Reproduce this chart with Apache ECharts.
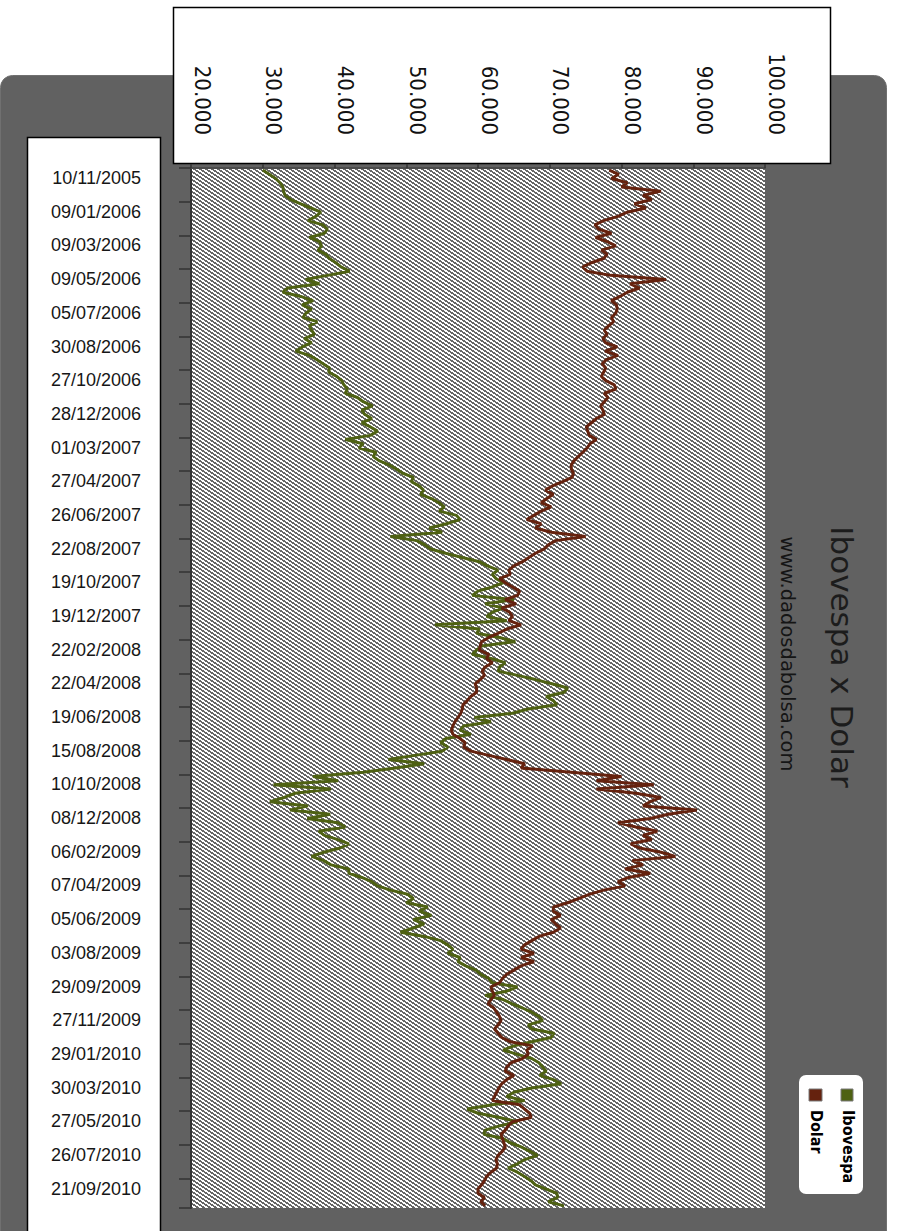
<!DOCTYPE html>
<html>
<head>
<meta charset="utf-8">
<title>Ibovespa x Dolar</title>
<script src="https://cdn.jsdelivr.net/npm/echarts@6/dist/echarts.min.js"></script>
<style>
  html, body { margin: 0; padding: 0; background: #ffffff; }
  #chart { width: 897px; height: 1231px; }
</style>
</head>
<body>
<div id="chart"></div>
<script>
// Date labels shown every 8th weekly point on the category axis (top to bottom)
const dateLabels = [
  '10/11/2005', '09/01/2006', '09/03/2006', '09/05/2006', '05/07/2006', '30/08/2006',
  '27/10/2006', '28/12/2006', '01/03/2007', '27/04/2007', '26/06/2007', '22/08/2007',
  '19/10/2007', '19/12/2007', '22/02/2008', '22/04/2008', '19/06/2008', '15/08/2008',
  '10/10/2008', '08/12/2008', '06/02/2009', '07/04/2009', '05/06/2009', '03/08/2009',
  '29/09/2009', '27/11/2009', '29/01/2010', '30/03/2010', '27/05/2010', '26/07/2010',
  '21/09/2010'
];
const pointsPerLabel = 8;

// Ibovespa, thousands of points, weekly samples
const ibovespaMil = [
  30.0, 30.9, 31.8, 32.4, 32.8, 32.9, 33.1, 33.9,
  35.3, 36.7, 38.1, 37.4, 36.3, 38.4, 39.0, 38.6,
  36.5, 37.9, 38.2, 37.7, 38.8, 39.3, 40.2, 40.9,
  42.1, 39.0, 36.0, 37.9, 33.5, 32.8, 35.3, 37.0,
  35.5, 36.8, 36.0, 35.6, 37.6, 36.5, 36.8, 37.2,
  35.8, 36.8, 35.5, 34.6, 36.5, 37.5, 38.4, 39.3,
  39.2, 40.3, 41.0, 41.3, 41.8, 41.5, 43.2, 44.0,
  45.3, 43.8, 44.2, 45.2, 43.8, 45.0, 46.0, 45.0,
  41.5, 44.0, 43.4, 45.8, 45.4, 46.2, 47.6, 48.6,
  49.5, 51.0, 50.7, 51.8, 52.4, 52.0, 53.5, 54.6,
  55.3, 54.6, 57.0, 57.5, 55.6, 53.2, 55.0, 47.8,
  51.5, 52.6, 53.4, 55.5, 57.8, 60.2, 61.3, 62.8,
  62.0, 62.5, 63.5, 62.0, 60.0, 59.2, 65.0, 61.0,
  63.5, 62.0, 61.2, 64.0, 54.0, 60.2, 59.8, 63.0,
  65.2, 60.5, 59.8, 59.2, 61.8, 63.8, 63.0, 62.8,
  65.5, 68.0, 70.3, 72.5, 72.0, 69.5, 70.5, 71.0,
  67.0, 64.8, 59.5, 61.8, 58.0, 57.5, 59.0, 55.5,
  54.8, 55.8, 55.0, 51.2, 47.5, 52.5, 48.5, 44.0,
  37.0, 40.5, 31.5, 39.5, 34.5, 33.0, 31.0, 36.3,
  33.8, 39.4, 36.2, 40.5, 41.5, 37.8, 38.6, 40.5,
  42.0, 40.8, 38.5, 36.8, 38.5, 39.5, 42.0, 42.0,
  43.8, 45.2, 46.0, 47.8, 50.2, 51.0, 50.0, 53.0,
  51.8, 53.5, 51.0, 52.5, 51.0, 49.2, 52.5, 54.8,
  55.8, 56.5, 55.8, 57.5, 57.2, 58.3, 59.7, 60.4,
  61.5, 62.0, 65.5, 64.0, 61.0, 63.5, 64.8, 66.2,
  67.5, 68.5, 69.0, 67.0, 67.5, 70.6, 70.2, 67.5,
  65.0, 63.5, 65.5, 67.5, 68.5, 69.0, 69.5, 68.6,
  70.5, 71.6, 67.5, 65.0, 64.0, 66.5, 62.0, 58.5,
  60.0, 63.0, 65.5, 63.0, 61.0, 60.8, 63.5, 64.5,
  66.0, 67.2, 68.3, 66.5, 65.5, 64.2, 65.5, 66.5,
  67.4, 68.0, 69.5, 71.0, 71.1, 69.8, 72.0
];

// Dolar, on the same scale (thousands), weekly samples
const dolarMil = [
  78.3, 79.6, 78.6, 80.8, 80.0, 85.5, 83.0, 84.2,
  81.8, 83.4, 80.8, 79.5, 77.5, 76.3, 76.8, 78.6,
  76.4, 78.0, 79.2, 77.2, 78.0, 77.5, 75.8, 74.6,
  75.2, 78.5, 86.2, 81.2, 82.5, 80.8, 79.8, 78.6,
  79.3, 79.4, 79.2, 78.6, 78.9, 78.2, 77.6, 78.0,
  77.4, 77.8, 79.4, 77.7, 79.5, 77.9, 77.3, 77.8,
  77.5, 77.2, 77.8, 79.0, 79.2, 77.6, 78.1, 77.6,
  77.1, 77.4, 77.6, 76.5, 75.8, 75.1, 75.3, 75.5,
  76.5, 75.6, 75.2, 74.6, 74.0, 73.4, 73.0, 73.0,
  73.3, 73.1, 71.8, 70.4, 69.4, 70.5, 69.6, 68.8,
  70.2, 68.8, 67.8, 66.8, 68.8, 68.0, 70.2, 75.0,
  70.8, 69.8, 69.2, 68.0, 67.1, 66.2, 65.0, 64.3,
  64.5, 63.0, 63.8, 64.8, 65.8, 65.5, 63.8, 65.3,
  63.3, 64.4, 64.8, 64.3, 66.0, 64.0, 62.8, 61.5,
  60.5, 60.3, 60.2, 61.5, 61.2, 62.0, 61.0, 60.6,
  60.9, 60.3, 59.6, 59.8, 59.8, 59.0, 58.5, 57.9,
  57.8, 57.6, 57.2, 56.8, 56.5, 56.3, 56.5, 57.5,
  58.2, 58.0, 59.0, 61.5, 64.0, 66.5, 66.0, 73.0,
  80.0, 76.5, 84.5, 76.5, 82.0, 85.5, 84.0, 83.0,
  90.5, 86.5, 84.0, 79.5, 82.0, 85.0, 83.0, 84.2,
  81.3, 82.5, 85.5, 87.5, 81.5, 83.0, 80.5, 84.0,
  81.0, 79.5, 80.5, 77.5, 75.5, 74.0, 72.5, 70.5,
  70.5, 71.5, 70.2, 70.8, 71.5, 70.5, 68.5, 67.5,
  66.5, 66.0, 67.8, 66.0, 67.8, 66.0, 65.0, 64.0,
  63.4, 63.0, 61.8, 62.0, 62.3, 61.8, 61.4, 62.2,
  62.6, 63.0, 63.2, 62.8, 62.3, 62.8, 63.3, 64.5,
  67.6, 66.8, 67.0, 66.2, 64.6, 64.0, 63.8, 65.0,
  64.0, 63.3, 62.9, 62.6, 62.3, 62.0, 65.8, 66.5,
  67.2, 67.4, 64.8, 64.2, 63.8, 63.2, 63.4, 63.6,
  63.8, 63.4, 62.8, 62.5, 62.7, 62.6, 61.8, 61.2,
  60.9, 60.5, 60.0, 60.0, 60.9, 60.4, 61.0
];

const valueMin = 20000;
const valueMax = 100000;
const valueStep = 10000;

const colorIbovespa = '#4e6112';
const colorDolar = '#65220e';
const frameGray = '#616161';

const ibovespa = ibovespaMil.map(v => v * 1000);
const dolar = dolarMil.map(v => v * 1000);
const categories = ibovespa.map((_, i) => String(i));

// thousands separator as in pt-BR: 20000 -> 20.000
function ptNumber(v) {
  return String(Math.round(v)).replace(/\B(?=(\d{3})+(?!\d))/g, '.');
}

// small tile of diagonal gray/white hatching for the plot area
function hatchTile() {
  const w = 6, h = 4, shift = 1.5;
  const c = document.createElement('canvas');
  c.width = w; c.height = h;
  const g = c.getContext('2d');
  g.fillStyle = '#ffffff';
  g.fillRect(0, 0, w, h);
  g.fillStyle = '#666666';
  for (let y = 0; y < h; y++) {
    for (let x = 0; x < w; x++) {
      const t = (((x + 0.5 - shift * y) % w) + w) % w;
      if (t < 3) g.fillRect(x, y, 1, 1);
    }
  }
  return c;
}

const plot = { left: 191, top: 168, width: 574, height: 1040 };

const chart = echarts.init(document.getElementById('chart'), null, { renderer: 'svg' });

const rot = -Math.PI / 2;

chart.setOption({
  animation: false,
  backgroundColor: '#ffffff',
  grid: { left: plot.left, top: plot.top, width: plot.width, height: plot.height, containLabel: false },
  xAxis: {
    type: 'value',
    position: 'top',
    min: valueMin,
    max: valueMax,
    interval: valueStep,
    splitLine: { show: false },
    axisLine: { show: true, lineStyle: { color: '#4a4a4a', width: 2 } },
    axisTick: { show: true, length: 4, lineStyle: { color: '#333333', width: 1.5 } },
    axisLabel: {
      rotate: 90,
      margin: 33,
      align: 'right',
      verticalAlign: 'bottom',
      color: '#111111',
      fontFamily: "'Liberation Sans Narrow', 'DejaVu Sans Condensed', 'Liberation Sans', sans-serif",
      fontSize: 22,
      formatter: ptNumber
    }
  },
  yAxis: {
    type: 'category',
    inverse: true,
    boundaryGap: true,
    data: categories,
    splitLine: { show: false },
    axisLine: { show: true, lineStyle: { color: '#333333', width: 2 } },
    axisTick: { show: true, interval: pointsPerLabel - 1, length: 12, lineStyle: { color: '#333333', width: 1.5 } },
    axisLabel: {
      interval: pointsPerLabel - 1,
      margin: 50,
      verticalAlign: 'top',
      lineHeight: 16,
      color: '#161616',
      fontFamily: "'Liberation Sans', Arial, sans-serif",
      fontSize: 18,
      formatter: (v, i) => (i % pointsPerLabel === 0 ? dateLabels[i / pointsPerLabel] : '')
    }
  },
  graphic: [
    // outer dark frame
    { type: 'rect', z: -20, shape: { x: 0.5, y: 75.5, width: 886, height: 1170, r: 12 },
      style: { fill: frameGray, stroke: '#707070', lineWidth: 1 } },
    // hatched plot background
    { type: 'rect', z: -10, shape: { x: plot.left, y: plot.top, width: plot.width, height: plot.height },
      style: { fill: { image: hatchTile(), repeat: 'repeat', imageWidth: 6, imageHeight: 4 } } },
    // white panel behind value-axis labels
    { type: 'rect', z: -5, shape: { x: 173.5, y: 7.5, width: 657, height: 156 },
      style: { fill: '#ffffff', stroke: '#000000', lineWidth: 1.5 } },
    // white panel behind date labels
    { type: 'rect', z: -5, shape: { x: 27.5, y: 137.5, width: 133, height: 1110 },
      style: { fill: '#ffffff', stroke: '#000000', lineWidth: 1.5 } },
    // title and source
    { type: 'text', z: 10, x: 842, y: 657, rotation: rot,
      style: { text: 'Ibovespa x Dolar', fill: '#1c1c1c',
        font: "31px 'DejaVu Sans', sans-serif",
        align: 'center', verticalAlign: 'middle', textAlign: 'center', textVerticalAlign: 'middle' } },
    { type: 'text', z: 10, x: 787, y: 654, rotation: rot,
      style: { text: 'www.dadosdabolsa.com', fill: '#151515',
        font: "19.5px 'DejaVu Sans', sans-serif",
        align: 'center', verticalAlign: 'middle', textAlign: 'center', textVerticalAlign: 'middle' } },
    // legend box
    { type: 'rect', z: 10, shape: { x: 799, y: 1075, width: 64, height: 119, r: 7 },
      style: { fill: '#ffffff' } },
    { type: 'rect', z: 11, shape: { x: 809, y: 1089, width: 13, height: 12 },
      style: { fill: colorDolar, stroke: '#7a7a7a', lineWidth: 1 } },
    { type: 'rect', z: 11, shape: { x: 841, y: 1089, width: 12, height: 12 },
      style: { fill: colorIbovespa, stroke: '#7a7a7a', lineWidth: 1 } },
    { type: 'text', z: 11, x: 816, y: 1110, rotation: rot,
      style: { text: 'Dolar', fill: '#000000',
        font: "bold 16px 'Liberation Sans Narrow', 'DejaVu Sans Condensed', sans-serif",
        align: 'left', verticalAlign: 'middle', textAlign: 'left', textVerticalAlign: 'middle' } },
    { type: 'text', z: 11, x: 848, y: 1110, rotation: rot,
      style: { text: 'Ibovespa', fill: '#000000',
        font: "bold 16px 'Liberation Sans Narrow', 'DejaVu Sans Condensed', sans-serif",
        align: 'left', verticalAlign: 'middle', textAlign: 'left', textVerticalAlign: 'middle' } }
  ],
  series: [
    {
      name: 'Ibovespa',
      type: 'line',
      data: ibovespa,
      showSymbol: false,
      symbol: 'none',
      lineStyle: { color: colorIbovespa, width: 3 },
      itemStyle: { color: colorIbovespa },
      z: 3
    },
    {
      name: 'Dolar',
      type: 'line',
      data: dolar,
      showSymbol: false,
      symbol: 'none',
      lineStyle: { color: colorDolar, width: 3 },
      itemStyle: { color: colorDolar },
      z: 4
    }
  ]
});
</script>
</body>
</html>
